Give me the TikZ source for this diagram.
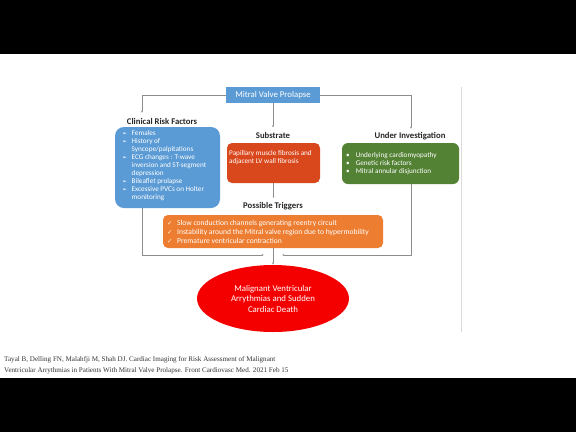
\documentclass[tikz,border=0pt]{standalone}
\usepackage{fontspec}
\setmainfont{Carlito}
\newfontfamily\symf{DejaVu Sans}
\newfontfamily\citef{Liberation Serif}
\usetikzlibrary{arrows.meta,shapes.geometric}
\definecolor{mvpblue}{HTML}{5B9BD5}
\definecolor{clinblue}{HTML}{5B9BD5}
\definecolor{subsred}{HTML}{D9481C}
\definecolor{trigorange}{HTML}{ED7D31}
\definecolor{invgreen}{HTML}{548235}
\definecolor{ellred}{HTML}{F50000}
\definecolor{conngray}{HTML}{8C8C8C}
\definecolor{sepgray}{HTML}{DADADA}
\definecolor{chkyellow}{HTML}{FFF2CC}
\newcommand{\arrb}{{\symf\fontsize{6}{8}\selectfont ➢}}
\newcommand{\chkb}{{\symf\fontsize{6.5}{9}\selectfont\color{chkyellow}✓}}
\tikzset{
  boxshape/.style={draw=none, rounded corners=6pt, inner sep=0pt},
  heading/.style={font=\bfseries\fontsize{8.7}{10}\selectfont, inner sep=1pt, text=black!85},
  boxtext/.style={anchor=north west, inner sep=0pt, text=white, font=\fontsize{7.2}{8}\selectfont, align=left},
  conn/.style={draw=conngray, line width=0.6pt, -{Latex[length=2.2pt,width=2pt]}},
}
\begin{document}
\begin{tikzpicture}[x=1pt,y=-1pt]
\useasboundingbox (0,0) rectangle (576,432);
\fill[white] (0,0) rectangle (576,432);
\fill[black] (0,0) rectangle (576,54);
\fill[black] (0,378) rectangle (576,432);

% separator line
\draw[sepgray, line width=0.7pt] (461,87) -- (461,332);

% top box
\node[fill=mvpblue, minimum width=94pt, minimum height=16pt, inner sep=0pt, text=white, font=\fontsize{8.8}{10}\selectfont] (mvp) at (273,95) {Mitral Valve Prolapse};

% headings
\node[heading] (clinhead) at (162,121) {Clinical Risk Factors};
\node[heading] (subshead) at (273,135) {Substrate};
\node[heading] (trighead) at (273,206) {Possible Triggers};
\node[heading] (underhead) at (410,136) {Under Investigation};

% boxes
\node[boxshape, fill=clinblue, rounded corners=9pt, minimum width=105pt, minimum height=81pt] (clin) at (167.5,167.5) {};
\node[boxshape, fill=subsred, rounded corners=5pt, minimum width=93pt, minimum height=40pt] (subs) at (273.5,163) {};
\node[boxshape, fill=invgreen, rounded corners=6pt, minimum width=117pt, minimum height=41pt] (green) at (400.5,163.5) {};
\node[boxshape, fill=trigorange, rounded corners=5pt, minimum width=220pt, minimum height=33pt] (orange) at (273,231.5) {};
\node[ellipse, fill=ellred, minimum width=152pt, minimum height=67pt, inner sep=0pt] (ell) at (273,298.5) {};

% box texts
\node[boxtext] (clintext) at (122,129.5) {%
\begin{tabular}{@{}l@{\hspace{4.5pt}}l@{}}
\arrb & Females\\
\arrb & History of\\
 & Syncope/palpitations\\
\arrb & ECG changes : T-wave\\
 & inversion and ST-segment\\
 & depression\\
\arrb & Bileaflet prolapse\\
\arrb & Excessive PVCs on Holter\\
 & monitoring
\end{tabular}};

\node[boxtext] (substext) at (229,150) {%
\begin{tabular}{@{}l@{}}
Papillary muscle fibrosis and\\
adjacent LV wall fibrosis
\end{tabular}};

\node[boxtext] (greentext) at (346,152) {%
\begin{tabular}{@{}l@{\hspace{6pt}}l@{}}
• & Underlying cardiomyopathy\\
• & Genetic risk factors\\
• & Mitral annular disjunction
\end{tabular}};

\node[boxtext, font=\fontsize{7.6}{9}\selectfont] (trigtext) at (167,218.5) {%
\begin{tabular}{@{}l@{\hspace{4.5pt}}l@{}}
\chkb & Slow conduction channels generating reentry circuit\\
\chkb & Instability around the Mitral valve region due to hypermobility\\
\chkb & Premature ventricular contraction
\end{tabular}};

\node[text=white, align=center, font=\fontsize{8.8}{10.5}\selectfont, inner sep=0pt] (elltext) at (273,298.5) {Malignant Ventricular\\Arrythmias and Sudden\\Cardiac Death};

% connector end points
\coordinate (ca) at (142,113);
\coordinate (ua) at (411,129);
\coordinate (jl) at (264,255);
\coordinate (jr) at (282,255);

% connectors
\draw[conn] (mvp.west) -| (ca);
\draw[conn] (mvp.east) -| (ua);
\draw[conn] (mvp.south) -- ([yshift=3pt]mvp.south |- subshead.north);
\draw[conn] (subs.south) -- ([yshift=3pt]subs.south |- trighead.north);
\draw[conn] (clin.south -| ca) |- (jl);
\draw[conn] (green.south -| ua) |- (jr);
\draw[conn] (orange.south) -- (ell.north);

% citation
\node[anchor=west, align=left, inner sep=0pt, text=black!80, font=\citef\fontsize{7.1}{11}\selectfont] (cite) at (4,365.5) {Tayal B, Delling FN, Malahfji M, Shah DJ. Cardiac Imaging for Risk Assessment of Malignant\\Ventricular Arrythmias in Patients With Mitral Valve Prolapse. Front Cardiovasc Med. 2021 Feb 15};
\end{tikzpicture}
\end{document}
